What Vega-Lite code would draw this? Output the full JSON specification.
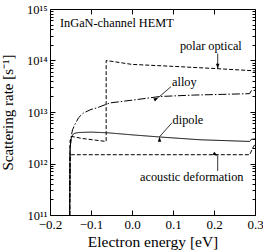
{
  "$schema": "https://vega.github.io/schema/vega-lite/v6.json",
  "width": 205,
  "height": 206,
  "autosize": "none",
  "padding": {"left": 50, "top": 9, "right": 8, "bottom": 35},
  "config": {
    "view": {"stroke": "black", "strokeWidth": 1},
    "font": "Liberation Serif",
    "axis": {"grid": false, "domain": false, "tickColor": "black", "tickWidth": 1, "labelColor": "black", "titleColor": "black", "labelFont": "Liberation Serif", "titleFont": "Liberation Serif", "titleFontWeight": "normal", "labelOverlap": false, "labelFlush": false, "labelBound": false}
  },
  "datasets": {
    "curves": [
      {"series": "polar optical", "i": 0, "energy": -0.152, "rate": 1e11},
      {"series": "polar optical", "i": 1, "energy": -0.151, "rate": 2.8e12},
      {"series": "polar optical", "i": 2, "energy": -0.147, "rate": 3.35e12},
      {"series": "polar optical", "i": 3, "energy": -0.12, "rate": 3.05e12},
      {"series": "polar optical", "i": 4, "energy": -0.09, "rate": 2.85e12},
      {"series": "polar optical", "i": 5, "energy": -0.063, "rate": 2.68e12},
      {"series": "polar optical", "i": 6, "energy": -0.063, "rate": 1e14},
      {"series": "polar optical", "i": 7, "energy": 0.0, "rate": 8.4e13},
      {"series": "polar optical", "i": 8, "energy": 0.1, "rate": 7.7e13},
      {"series": "polar optical", "i": 9, "energy": 0.2, "rate": 7.0e13},
      {"series": "polar optical", "i": 10, "energy": 0.3, "rate": 6.3e13},
      {"series": "alloy", "i": 0, "energy": -0.152, "rate": 1e11},
      {"series": "alloy", "i": 1, "energy": -0.151, "rate": 2e12},
      {"series": "alloy", "i": 2, "energy": -0.148, "rate": 3.5e12},
      {"series": "alloy", "i": 3, "energy": -0.145, "rate": 4.5e12},
      {"series": "alloy", "i": 4, "energy": -0.14, "rate": 5.6e12},
      {"series": "alloy", "i": 5, "energy": -0.13, "rate": 7.8e12},
      {"series": "alloy", "i": 6, "energy": -0.119, "rate": 9.5e12},
      {"series": "alloy", "i": 7, "energy": -0.1, "rate": 1.12e13},
      {"series": "alloy", "i": 8, "energy": -0.086, "rate": 1.2e13},
      {"series": "alloy", "i": 9, "energy": -0.054, "rate": 1.5e13},
      {"series": "alloy", "i": 10, "energy": 0.011, "rate": 1.74e13},
      {"series": "alloy", "i": 11, "energy": 0.068, "rate": 2.0e13},
      {"series": "alloy", "i": 12, "energy": 0.15, "rate": 2.13e13},
      {"series": "alloy", "i": 13, "energy": 0.22, "rate": 2.2e13},
      {"series": "alloy", "i": 14, "energy": 0.287, "rate": 2.27e13},
      {"series": "alloy", "i": 15, "energy": 0.291, "rate": 2.6e13},
      {"series": "alloy", "i": 16, "energy": 0.3, "rate": 2.63e13},
      {"series": "dipole", "i": 0, "energy": -0.152, "rate": 1e11},
      {"series": "dipole", "i": 1, "energy": -0.151, "rate": 2e12},
      {"series": "dipole", "i": 2, "energy": -0.148, "rate": 3.1e12},
      {"series": "dipole", "i": 3, "energy": -0.145, "rate": 3.6e12},
      {"series": "dipole", "i": 4, "energy": -0.14, "rate": 3.85e12},
      {"series": "dipole", "i": 5, "energy": -0.13, "rate": 4.0e12},
      {"series": "dipole", "i": 6, "energy": -0.1, "rate": 4.07e12},
      {"series": "dipole", "i": 7, "energy": -0.06, "rate": 3.95e12},
      {"series": "dipole", "i": 8, "energy": 0.0, "rate": 3.6e12},
      {"series": "dipole", "i": 9, "energy": 0.068, "rate": 3.27e12},
      {"series": "dipole", "i": 10, "energy": 0.166, "rate": 2.89e12},
      {"series": "dipole", "i": 11, "energy": 0.287, "rate": 2.68e12},
      {"series": "dipole", "i": 12, "energy": 0.291, "rate": 2.95e12},
      {"series": "dipole", "i": 13, "energy": 0.3, "rate": 3.0e12},
      {"series": "acoustic deformation", "i": 0, "energy": -0.152, "rate": 1e11},
      {"series": "acoustic deformation", "i": 1, "energy": -0.151, "rate": 1.3e12},
      {"series": "acoustic deformation", "i": 2, "energy": -0.148, "rate": 1.48e12},
      {"series": "acoustic deformation", "i": 3, "energy": 0.287, "rate": 1.48e12},
      {"series": "acoustic deformation", "i": 4, "energy": 0.296, "rate": 2.1e12},
      {"series": "acoustic deformation", "i": 5, "energy": 0.3, "rate": 2.35e12}
    ],
    "labels": [
      {"label": "InGaN-channel HEMT", "energy": -0.1756, "rate": 4.57e14},
      {"label": "polar optical", "energy": 0.117, "rate": 1.59e14},
      {"label": "alloy", "energy": 0.0976, "rate": 3.25e13},
      {"label": "dipole", "energy": 0.099, "rate": 5.9e12},
      {"label": "acoustic deformation", "energy": 0.0195, "rate": 4.67e11}
    ],
    "arrows": [
      {"name": "polar optical", "energy": 0.209, "rate": 1.36e14, "energy2": 0.209, "rate2": 6.95e13},
      {"name": "acoustic deformation", "energy": 0.209, "rate": 7.2e11, "energy2": 0.209, "rate2": 1.42e12},
      {"name": "alloy", "energy": 0.095, "rate": 3.1e13, "energy2": 0.0646, "rate2": 1.92e13},
      {"name": "dipole", "energy": 0.0976, "rate": 6.2e12, "energy2": 0.0671, "rate2": 3.3e12}
    ]
  },
  "layer": [
    {
      "data": {"name": "curves"},
      "mark": {"type": "line", "strokeWidth": 1, "color": "black", "clip": true},
      "encoding": {
        "x": {
          "field": "energy", "type": "quantitative",
          "scale": {"domain": [-0.2, 0.3], "nice": false, "zero": false},
          "axis": {"orient": "bottom", "values": [-0.2, -0.1, 0, 0.1, 0.2, 0.3], "format": ".1f", "tickSize": -5, "labelFontSize": 13, "labelPadding": 8, "title": "Electron energy [eV]", "titleFontSize": 15.5, "titlePadding": 3}
        },
        "y": {
          "field": "rate", "type": "quantitative",
          "scale": {"type": "log", "domain": [1e11, 1e15], "nice": false},
          "axis": {
            "orient": "left",
            "values": [1e11, 2e11, 3e11, 4e11, 5e11, 6e11, 7e11, 8e11, 9e11, 1e12, 2e12, 3e12, 4e12, 5e12, 6e12, 7e12, 8e12, 9e12, 1e13, 2e13, 3e13, 4e13, 5e13, 6e13, 7e13, 8e13, 9e13, 1e14, 2e14, 3e14, 4e14, 5e14, 6e14, 7e14, 8e14, 9e14, 1e15],
            "tickSize": {"condition": {"test": "abs(log(datum.value)/LN10 - round(log(datum.value)/LN10)) < 1e-6", "value": -5}, "value": -3},
            "labelExpr": "abs(log(datum.value)/LN10 - round(log(datum.value)/LN10)) < 1e-6 ? '10' + ['¹¹','¹²','¹³','¹⁴','¹⁵'][round(log(datum.value)/LN10) - 11] : ''",
            "labelFontSize": 12.5, "labelPadding": 8,
            "title": "Scattering rate [s⁻¹]", "titleFontSize": 15, "titlePadding": 11
          }
        },
        "detail": {"field": "series"},
        "strokeDash": {"field": "series", "type": "nominal", "scale": {"domain": ["polar optical", "alloy", "dipole", "acoustic deformation"], "range": [[4, 2], [8, 2, 1.5, 2], [1, 0], [4, 2]]}, "legend": null},
        "order": {"field": "i", "type": "quantitative"}
      }
    },
    {
      "data": {"name": "labels"},
      "mark": {"type": "text", "align": "left", "baseline": "alphabetic", "font": "Liberation Serif", "fontSize": 12.3, "color": "black"},
      "encoding": {
        "x": {"field": "energy", "type": "quantitative", "axis": {"orient": "top", "values": [-0.1, 0, 0.1, 0.2], "labels": false, "tickSize": -5, "title": null}},
        "y": {
          "field": "rate", "type": "quantitative",
          "axis": {
            "orient": "right",
            "values": [1e11, 2e11, 3e11, 4e11, 5e11, 6e11, 7e11, 8e11, 9e11, 1e12, 2e12, 3e12, 4e12, 5e12, 6e12, 7e12, 8e12, 9e12, 1e13, 2e13, 3e13, 4e13, 5e13, 6e13, 7e13, 8e13, 9e13, 1e14, 2e14, 3e14, 4e14, 5e14, 6e14, 7e14, 8e14, 9e14, 1e15],
            "tickSize": {"condition": {"test": "abs(log(datum.value)/LN10 - round(log(datum.value)/LN10)) < 1e-6", "value": -5}, "value": -3},
            "labels": false, "title": null
          }
        },
        "text": {"field": "label"}
      }
    },
    {
      "data": {"name": "arrows"},
      "mark": {"type": "rule", "strokeWidth": 0.8, "color": "black"},
      "encoding": {
        "x": {"field": "energy", "type": "quantitative", "axis": null},
        "y": {"field": "rate", "type": "quantitative", "axis": null},
        "x2": {"field": "energy2"},
        "y2": {"field": "rate2"}
      }
    },
    {
      "data": {"name": "arrows"},
      "mark": {"type": "point", "shape": "M0,0L-0.7,2L0.7,2Z", "filled": true, "size": 25, "color": "black", "opacity": 1},
      "encoding": {
        "x": {"field": "energy2", "type": "quantitative", "axis": null},
        "y": {"field": "rate2", "type": "quantitative", "axis": null},
        "angle": {"field": "name", "type": "nominal", "scale": {"domain": ["polar optical", "acoustic deformation", "alloy", "dipole"], "range": [180, 0, 229, 221]}, "legend": null}
      }
    }
  ],
  "resolve": {"axis": {"x": "independent", "y": "independent"}}
}
